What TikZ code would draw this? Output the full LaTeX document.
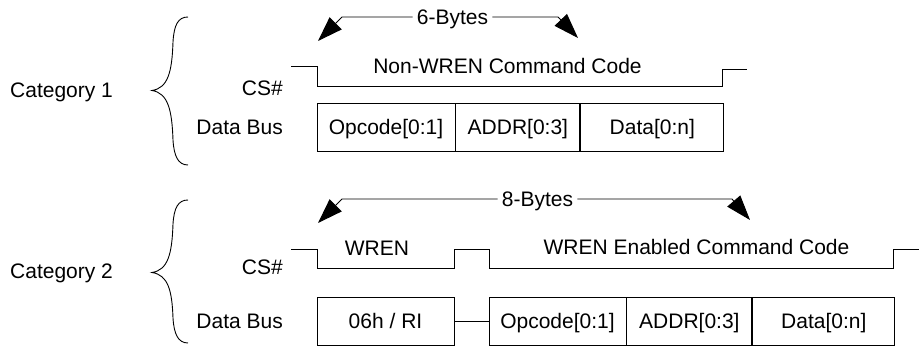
\documentclass[tikz,border=0pt]{standalone}
\usepackage{fontspec}
\setmainfont{Liberation Sans}
\usetikzlibrary{arrows.meta}

\tikzset{
  wire/.style={line width=0.9pt, draw=black},
  lbl/.style={inner sep=0pt, text height=15pt, text depth=0pt,
    font=\fontsize{21}{25}\selectfont},
  cell/.style={lbl, draw=black, line width=0.9pt, minimum height=48pt},
  span/.style={lbl, inner xsep=4pt, fill=white},
  spanarrow/.style={wire, -{Triangle[length=25pt, width=17pt]}},
  curly/.style={line width=0.9pt, draw=black},
}

\begin{document}
\begin{tikzpicture}[x=1pt, y=-1pt]
\useasboundingbox (0,0) rectangle (919,347);

% ---------------- Category 1 ----------------
\node[lbl, anchor=west] (cat1) at (10,90.5) {Category 1};
\draw[curly] (188,17) .. controls (178,17) and (174,25) .. (173,42)
  .. controls (172,72) and (168,88) .. (152,90.5)
  .. controls (168,93) and (172,110) .. (173,140)
  .. controls (174,156) and (178,165) .. (188,165);

\node[lbl, anchor=east] (cs1) at (283,88.5) {CS\#};
\node[lbl, anchor=east] (db1) at (283,127) {Data Bus};

% chip select waveform
\draw[wire] (291,66) -- (317,66) -- (317,86) -- (722,86) -- (722,69) -- (747,69);
\node[lbl] (cmd1) at (507.5,66.5) {Non-WREN Command Code};

% data bus cells
\node[cell, minimum width=138pt] (op1) at (386,127) {Opcode[0:1]};
\node[cell, minimum width=124pt, anchor=west] (ad1) at (op1.east) {ADDR[0:3]};
\node[cell, minimum width=143pt, anchor=west] (da1) at (ad1.east) {Data[0:n]};

% 6-byte span
\node[span] (b6) at (452.5,17) {6-Bytes};
\coordinate (l6) at (342,17);
\coordinate (l6tip) at (318,41);
\coordinate (r6) at (558,17);
\coordinate (r6tip) at (578,38);
\draw[spanarrow] (b6.west) -- (l6) -- (l6tip);
\draw[spanarrow] (b6.east) -- (r6) -- (r6tip);

% ---------------- Category 2 ----------------
\node[lbl, anchor=west] (cat2) at (10,271.5) {Category 2};
\draw[curly] (188,200) .. controls (178,200) and (174,208) .. (173,224)
  .. controls (172,254) and (168,270) .. (152,272.5)
  .. controls (168,275) and (172,290) .. (173,318)
  .. controls (174,334) and (178,343) .. (188,343);

\node[lbl, anchor=east] (cs2) at (283,267.5) {CS\#};
\node[lbl, anchor=east] (db2) at (283,321.5) {Data Bus};

% chip select waveform
\draw[wire] (291,249) -- (317,249) -- (317,268) -- (454,268) -- (454,249)
  -- (489,249) -- (489,268) -- (893,268) -- (893,249) -- (919,249);
\node[lbl] (wren) at (377,248.5) {WREN};
\node[lbl] (cmd2) at (696.5,247.5) {WREN Enabled Command Code};

% data bus cells
\node[cell, minimum width=137pt] (ri) at (385.5,321.5) {06h / RI};
\node[cell, minimum width=137pt] (op2) at (557.5,321.5) {Opcode[0:1]};
\node[cell, minimum width=125pt, anchor=west] (ad2) at (op2.east) {ADDR[0:3]};
\node[cell, minimum width=142pt, anchor=west] (da2) at (ad2.east) {Data[0:n]};
\draw[wire] (ri.east) -- (op2.west);

% 8-byte span
\node[span] (b8) at (537.5,199) {8-Bytes};
\coordinate (l8) at (342,199);
\coordinate (l8tip) at (318,223);
\coordinate (r8) at (732,199);
\coordinate (r8tip) at (750,220);
\draw[spanarrow] (b8.west) -- (l8) -- (l8tip);
\draw[spanarrow] (b8.east) -- (r8) -- (r8tip);
\end{tikzpicture}
\end{document}
